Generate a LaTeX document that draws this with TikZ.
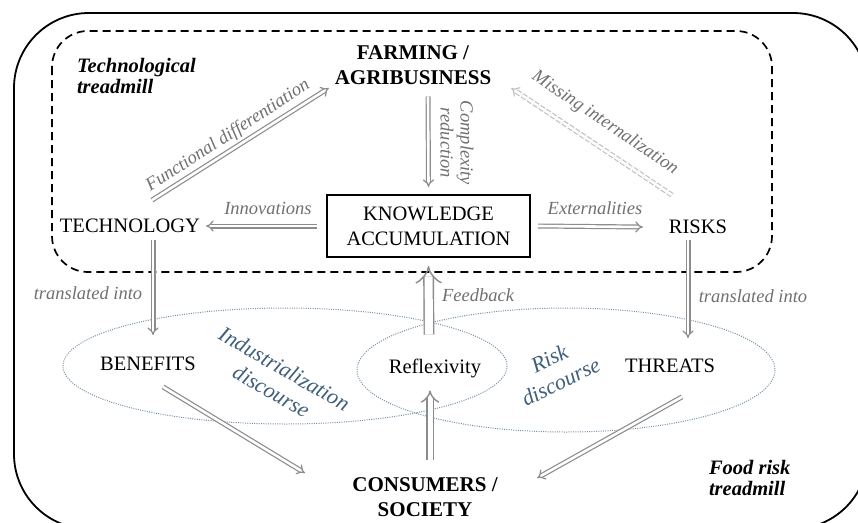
\documentclass[tikz,border=0pt]{standalone}
\usepackage{fontspec}
\setmainfont{Liberation Serif}
\usetikzlibrary{arrows.meta}
\definecolor{arrgray}{HTML}{8C8C8C}
\definecolor{lblgray}{HTML}{707070}
\definecolor{dgray}{HTML}{C2C2C2}
\definecolor{discblue}{HTML}{3F5F7C}
\definecolor{elcol}{HTML}{7790A5}
\begin{document}
\begin{tikzpicture}[x=1pt,y=-1pt,
  every node/.style={inner sep=0pt, outer sep=0pt},
  mainlbl/.style={font=\fontsize{20.5}{25}\selectfont, align=center},
  boldlbl/.style={font=\fontsize{21}{24.5}\selectfont\bfseries, align=center},
  arrlbl/.style={font=\fontsize{18.5}{20}\selectfont\itshape, text=lblgray, align=center},
  disc/.style={font=\fontsize{22}{26}\selectfont\itshape, text=discblue, align=center},
  tread/.style={font=\fontsize{20.5}{21.5}\selectfont\bfseries\itshape, align=left, anchor=west},
  arr/.style={draw=arrgray, double=white, line width=1.2pt, double distance=2.6pt, -{Implies[scale=1.5]}},
  widearr/.style={draw=arrgray, double=white, line width=1.4pt, double distance=#1, -{Implies[scale=1.4]}},
  missarr/.style={draw=dgray, double=white, line width=1.2pt, double distance=2.6pt, dash pattern=on 5pt off 2pt, -{Implies[scale=1.5]}},
  frame/.style={draw=black, line width=1.8pt},
  dframe/.style={draw=black, line width=1.7pt, dash pattern=on 8pt off 5pt},
  disce/.style={draw=elcol, line width=1pt, dash pattern=on 1pt off 1.3pt},
]
\useasboundingbox (0,0) rectangle (858,522);
\fill[white] (0,0) rectangle (858,522);

% frames
\draw[frame, rounded corners=75pt] (14,13) rectangle (868,529);
\draw[dframe, rounded corners=36pt] (52,31) rectangle (772,272);

% discourse ellipses
\draw[disce] (285,366) ellipse [x radius=222, y radius=58];
\draw[disce] (566,370) ellipse [x radius=209, y radius=62];

% main nodes
\node[boldlbl] (farm) at (413,65) {FARMING /\\AGRIBUSINESS};
\node[mainlbl, draw=black, line width=1.2pt, minimum width=203pt, minimum height=62pt] (ka) at (428.5,226) {KNOWLEDGE\\ACCUMULATION};
\node[mainlbl] (tech) at (130,226) {TECHNOLOGY};
\node[mainlbl] (risks) at (698,227) {RISKS};
\node[mainlbl] (benefits) at (148,364) {BENEFITS};
\node[mainlbl] (refl) at (435,368) {Reflexivity};
\node[mainlbl] (threats) at (670,366) {THREATS};
\node[boldlbl] (cons) at (425,497) {CONSUMERS /\\SOCIETY};

% treadmill labels
\node[tread] (ttread) at (77,76) {Technological\\treadmill};
\node[tread] (ftread) at (709,478) {Food risk\\treadmill};

% discourse labels
\node[disc, rotate=-30] (idisc) at (278,380) {Industrialization\\discourse};
\node[disc, rotate=26] (rdisc) at (555,370) {Risk\\discourse};

% arrows
\draw[arr] ([xshift=-10pt]ka.west) -- ([xshift=6pt]tech.east);
\draw[arr] ([xshift=8pt]ka.east) -- ([xshift=-26pt]risks.west);
\draw[arr] ([xshift=15pt,yshift=-12pt]farm.south) -- ([yshift=8pt]ka.north);
\draw[arr] ([xshift=22pt,yshift=19pt]tech.north) -- ([xshift=-6pt,yshift=-23pt]farm.west);
\draw[missarr] ([xshift=-26pt,yshift=25pt]risks.north) -- ([xshift=20pt,yshift=-23pt]farm.east);
\draw[arr] ([xshift=23pt,yshift=-7pt]tech.south) -- ([xshift=5pt,yshift=22pt]benefits.north);
\draw[arr] ([xshift=-10pt,yshift=-6pt]risks.south) -- ([xshift=18pt,yshift=21pt]threats.north);
\draw[widearr=8pt] ([xshift=-6pt,yshift=24pt]refl.north) -- ([yshift=-9pt]ka.south);
\draw[widearr=5pt] ([xshift=5pt,yshift=18pt]cons.north) -- ([xshift=-5pt,yshift=-13pt]refl.south);
\draw[arr] ([xshift=15pt,yshift=-16pt]benefits.south) -- ([xshift=-47.5pt,yshift=24pt]cons.west);
\draw[arr] ([xshift=12pt,yshift=-24pt]threats.south) -- ([xshift=39.5pt,yshift=19pt]cons.east);

% arrow labels
\node[arrlbl, rotate=33] (lfunc) at (228,136) {Functional differentiation};
\node[arrlbl, rotate=-34] (lmiss) at (605,123) {Missing internalization};
\node[arrlbl, rotate=-90] (lcomp) at (457,143) {Complexity\\reduction};
\node[arrlbl] (linno) at (268,208) {Innovations};
\node[arrlbl] (lext) at (595,208) {Externalities};
\node[arrlbl] (ltr1) at (88,293) {translated into};
\node[arrlbl] (ltr2) at (753,296) {translated into};
\node[arrlbl] (lfeed) at (478,295) {Feedback};
\end{tikzpicture}
\end{document}
